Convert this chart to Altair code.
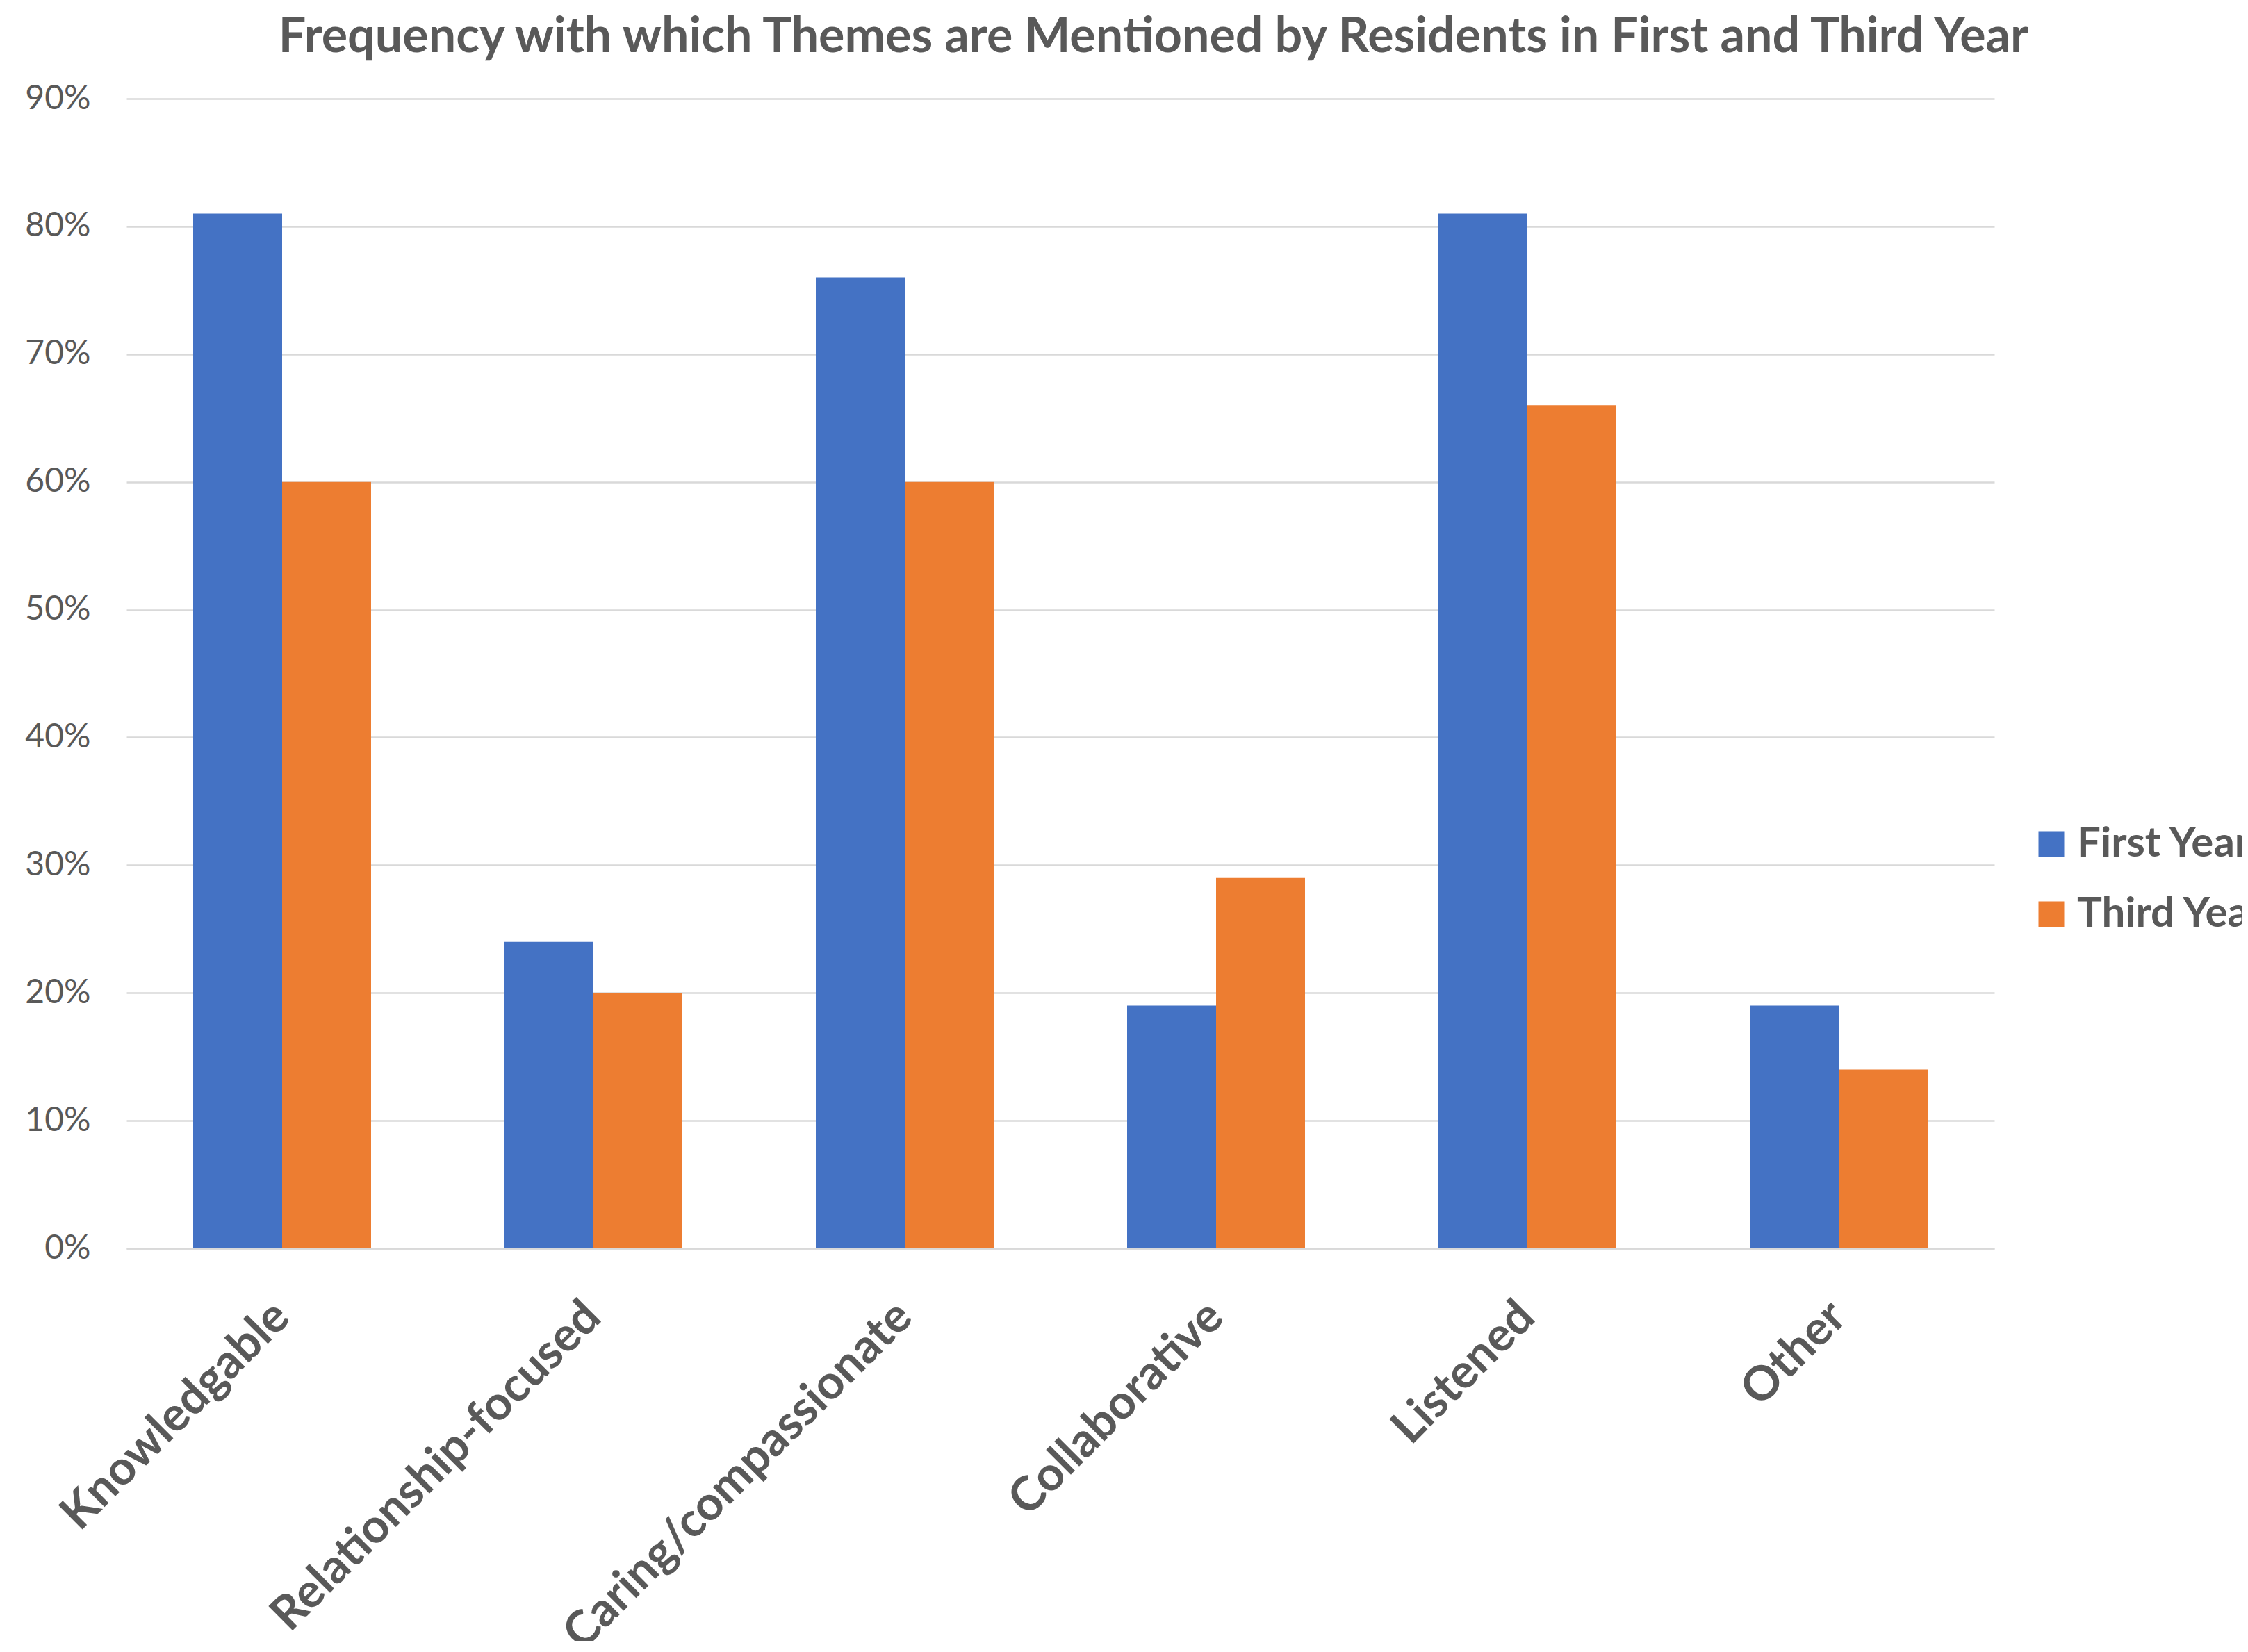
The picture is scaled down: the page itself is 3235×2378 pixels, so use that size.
import altair as alt
import pandas as pd

categories = ["Knowledgable", "Relationship-focused", "Caring/compassionate",
              "Collaborative", "Listened", "Other"]
series = ["First Year", "Third Year"]
first_year = [81, 24, 76, 19, 81, 19]
third_year = [60, 20, 60, 29, 66, 14]
y_ticks = [0, 10, 20, 30, 40, 50, 60, 70, 80, 90]
colors = ["#4472C4", "#ED7D31"]
title_text = "Frequency with which Themes are Mentioned by Residents in First and Third Year"

rows = []
for c, a, b in zip(categories, first_year, third_year):
    rows.append({"theme": c, "year": series[0], "value": a})
    rows.append({"theme": c, "year": series[1], "value": b})
df = pd.DataFrame(rows)

TXT = "#595959"
FONT = "Lato"

bars = alt.Chart(df).mark_bar().encode(
    x=alt.X("theme:N", sort=categories, title=None,
            scale=alt.Scale(paddingInner=0.4286, paddingOuter=0.2143),
            axis=alt.Axis(labelAngle=-45, labelAlign="right", labelBaseline="middle",
                          labelFont=FONT, labelFontSize=68,
                          labelFontWeight="bold", labelColor=TXT, labelLimit=2000,
                          labelPadding=88, ticks=False, domainColor="#D9D9D9",
                          domainWidth=2.5, grid=False)),
    xOffset=alt.XOffset("year:N", sort=series),
    y=alt.Y("value:Q", title=None,
            scale=alt.Scale(domain=[0, 90], nice=False, zero=True),
            axis=alt.Axis(values=y_ticks, labelExpr="datum.value + '%'",
                          labelFont=FONT, labelFontSize=48, labelColor=TXT,
                          labelPadding=52, ticks=False, domain=False,
                          gridColor="#D9D9D9", gridWidth=2.5)),
    color=alt.Color("year:N", sort=series,
                    scale=alt.Scale(domain=series, range=colors),
                    legend=alt.Legend(title=None, orient="none", legendX=2740, legendY=1043,
                                      symbolType="square", symbolSize=1369,
                                      symbolStrokeWidth=0, labelFont=FONT,
                                      labelFontSize=60, labelFontWeight="bold",
                                      labelColor=TXT, labelLimit=2000, labelOffset=7,
                                      rowPadding=41, padding=0)),
)

title = alt.Chart(pd.DataFrame({"t": [title_text]})).mark_text(
    font=FONT, fontSize=70, fontWeight="bold", color=TXT,
    align="center", baseline="alphabetic"
).encode(text="t:N", x=alt.value(1478), y=alt.value(-67))

chart = alt.layer(bars, title).properties(
    width=2688,
    height=1655,
    padding={"left": 174, "top": 134, "right": 357, "bottom": 565},
    autosize=alt.AutoSizeParams(type="none"),
).configure(background="white").configure_view(stroke="transparent", strokeWidth=0)

chart.save("out.html", embed_options={"renderer": "svg", "actions": False})
